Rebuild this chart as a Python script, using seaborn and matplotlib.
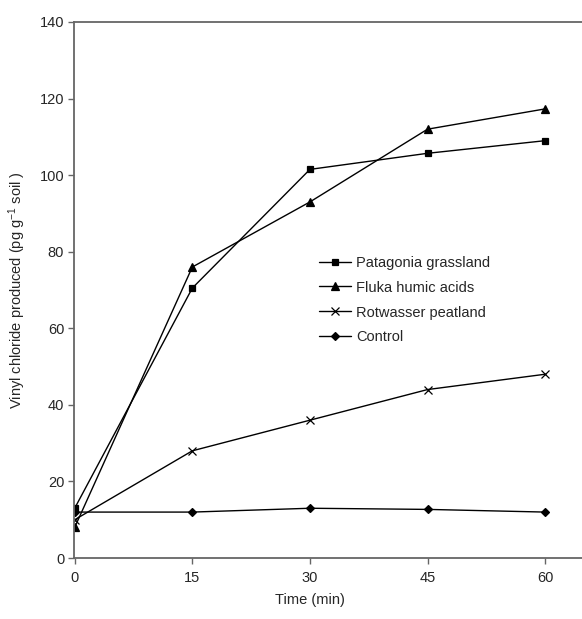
import pandas as pd
import matplotlib
matplotlib.use("Agg")
import matplotlib.pyplot as plt
import seaborn as sns

# data
time_min = [0, 15, 30, 45, 60]
patagonia = [13, 70.5, 101.5, 105.7, 109]
fluka = [8, 76, 93, 112, 117.3]
rotwasser = [10, 28, 36, 44, 48]
control = [12, 12, 13, 12.7, 12]
series_names = ["Patagonia grassland", "Fluka humic acids", "Rotwasser peatland", "Control"]

df = pd.concat([
    pd.DataFrame({"Time": time_min, "VC": vals, "Series": name})
    for name, vals in zip(series_names, [patagonia, fluka, rotwasser, control])
])

sns.set_style("white")
plt.rcParams["font.family"] = ["Liberation Sans", "DejaVu Sans"]
plt.rcParams["mathtext.fontset"] = "custom"
plt.rcParams["mathtext.rm"] = "Liberation Sans"
plt.rcParams["mathtext.it"] = "Liberation Sans"

fig = plt.figure(figsize=(5.82, 6.19), dpi=100)
ax = fig.add_axes([0.127, 0.0985, 0.873, 0.866])

markers = {"Patagonia grassland": "s", "Fluka humic acids": "^",
           "Rotwasser peatland": "x", "Control": "D"}
sizes = {"Patagonia grassland": 5, "Fluka humic acids": 5.5,
         "Rotwasser peatland": 5.5, "Control": 3.8}

for name in series_names:
    sub = df[df["Series"] == name]
    sns.lineplot(data=sub, x="Time", y="VC", ax=ax, color="black", lw=1.0,
                 marker=markers[name], markersize=sizes[name],
                 markeredgecolor="black", markerfacecolor="black",
                 markeredgewidth=0.9, label=name)

ax.set_xlim(-0.1, 64.7)
ax.set_ylim(0, 140)
ax.set_xticks(time_min)
ax.set_yticks(range(0, 141, 20))

ax.set_xlabel("Time (min)", fontsize=10.5)
ax.set_ylabel(r"Vinyl chloride produced (pg g$^{-1}$ soil )", fontsize=10.5)
ax.xaxis.set_label_coords(0.465, -0.065)
ax.yaxis.set_label_coords(-0.09, 0.5)

ax.spines["right"].set_visible(False)
for s in ["left", "bottom", "top"]:
    ax.spines[s].set_color("#666666")
    ax.spines[s].set_linewidth(1.3)
ax.tick_params(axis="both", which="major", direction="out", length=4,
               width=1.0, color="#666666", labelsize=10.5)
ax.tick_params(axis="y", left=True, pad=3)
ax.tick_params(axis="x", bottom=True, pad=5)
ax.grid(False)

ax.legend(loc="upper left", bbox_to_anchor=(0.47, 0.575), frameon=False,
          fontsize=10.5, handlelength=2.2, handletextpad=0.4, labelspacing=0.75,
          borderaxespad=0)

fig.savefig("out.png", dpi=100)
